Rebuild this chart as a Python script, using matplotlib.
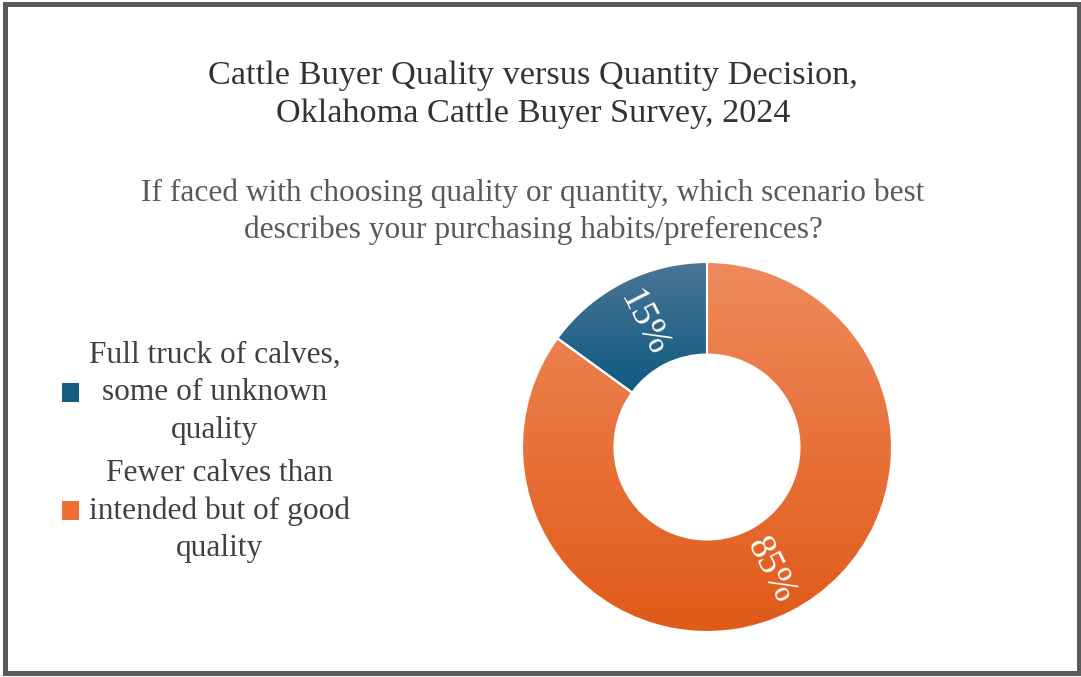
import matplotlib.pyplot as plt
import numpy as np
from matplotlib.colors import LinearSegmentedColormap
from matplotlib.patches import Patch, Rectangle

plt.rcParams['font.family'] = ['Liberation Serif', 'DejaVu Serif']

labels = ["Full truck of calves,\nsome of unknown\nquality",
          "Fewer calves than\nintended but of good\nquality"]
values = [15, 85]
pct_labels = ["15%", "85%"]
top_colors = ["#4a7595", "#ef8a5c"]
bottom_colors = ["#0e5a80", "#e05a18"]
mid_colors = ["#155d80", "#ed7030"]

title = "Cattle Buyer Quality versus Quantity Decision,\nOklahoma Cattle Buyer Survey, 2024"
subtitle = ("If faced with choosing quality or quantity, which scenario best\n"
            "describes your purchasing habits/preferences?")

W, H = 1081, 677
fig = plt.figure(figsize=(W / 100, H / 100), dpi=100)

# donut axes: center (707, 447) px from top, radius 185 px
cx, cy, r = 707, H - 447, 185
half = 190
ax = fig.add_axes([(cx - half) / W, (cy - half) / H, 2 * half / W, 2 * half / H])

wedges, _ = ax.pie(values, startangle=90, counterclock=True, radius=1,
                   colors=mid_colors,
                   wedgeprops=dict(width=0.5, edgecolor="white", linewidth=1.5))

# vertical gradient fill per slice (light at top, dark at bottom)
grad = np.linspace(0, 1, 256).reshape(-1, 1)
for w, c0, c1 in zip(wedges, top_colors, bottom_colors):
    bb = w.get_path().get_extents()
    cmap = LinearSegmentedColormap.from_list("g", [c0, c1])
    im = ax.imshow(grad, cmap=cmap, extent=[bb.x0, bb.x1, bb.y0, bb.y1],
                   origin="upper", aspect="auto", zorder=1)
    im.set_clip_path(w)
    w.set_facecolor("none")
    w.set_zorder(2)

lim = half / r
ax.set_xlim(-lim, lim)
ax.set_ylim(-lim, lim)
ax.set_aspect("equal")
ax.axis("off")

# percentage labels, radial orientation
for w, txt in zip(wedges, pct_labels):
    mid = np.deg2rad((w.theta1 + w.theta2) / 2)
    rr = 0.75
    ang = (np.rad2deg(mid) + 90) % 180 - 90
    ax.text(rr * np.cos(mid), rr * np.sin(mid), txt, color="white",
            fontsize=27, rotation=ang, ha="center", va="center",
            rotation_mode="anchor", zorder=3)

fig.text(533 / W, 1 - 95 / H, title, ha="center", va="center",
         fontsize=24.7, color="#333333", linespacing=1.33)
fig.text(533 / W, 1 - 212 / H, subtitle, ha="center", va="center",
         fontsize=22.6, color="#595959", linespacing=1.33)

handles = [Patch(facecolor=c, edgecolor="none") for c in mid_colors]
leg = fig.legend(handles, labels, loc="center left",
                 bbox_to_anchor=(62 / W, 1 - 452 / H), frameon=False,
                 fontsize=22.6, labelspacing=0.45, handlelength=0.55,
                 handleheight=0.55, handletextpad=0.3, borderaxespad=0,
                 borderpad=0)
for t in leg.get_texts():
    t.set_multialignment("center")
    t.set_color("#404040")
    t.set_linespacing(1.38)

fig.patches.append(Rectangle((4.5 / W, 4 / H), 1 - 7 / W, 1 - 8 / H,
                             transform=fig.transFigure, fill=False,
                             edgecolor="#595959", linewidth=3.6))

fig.savefig("out.png", dpi=100)
